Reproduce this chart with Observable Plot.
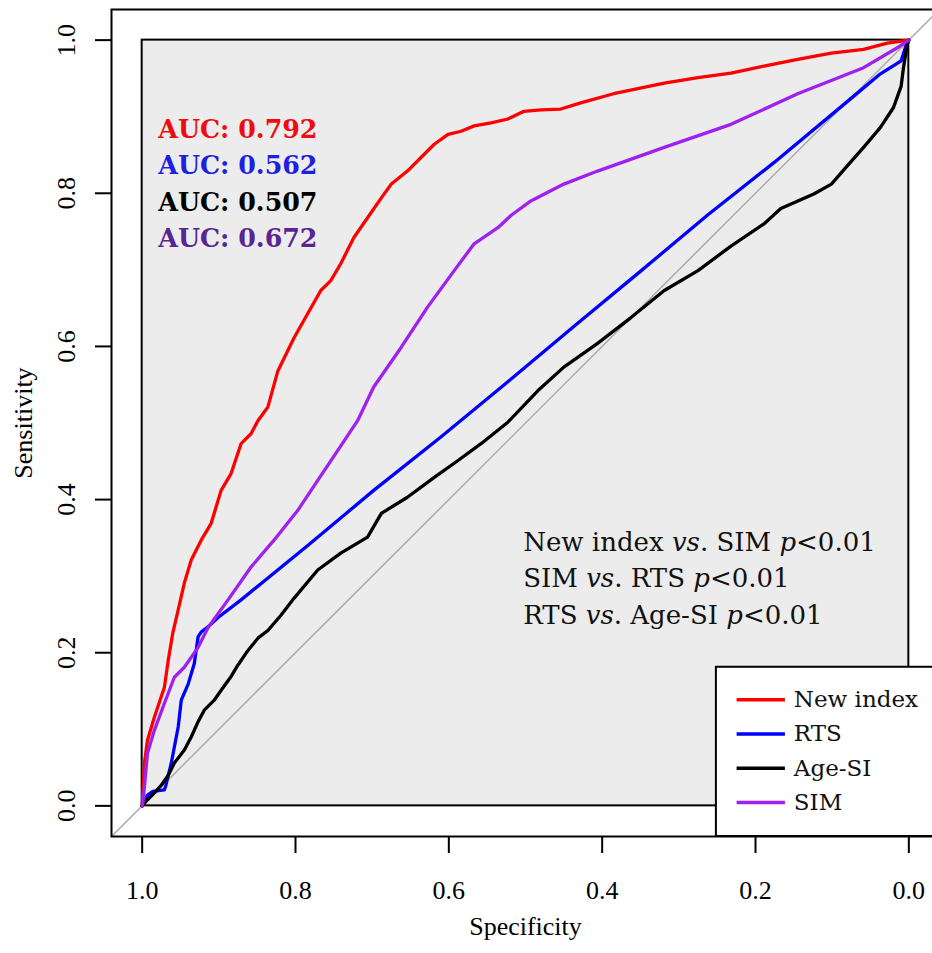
<!DOCTYPE html>
<html>
<head>
<meta charset="utf-8">
<script src="https://cdn.jsdelivr.net/npm/d3@7"></script>
<script src="https://cdn.jsdelivr.net/npm/@observablehq/plot@0.6"></script>
<style>
  html, body { margin: 0; padding: 0; background: #fff; overflow: hidden; }
  #chart svg { display: block; }
</style>
</head>
<body>
<div id="chart"></div>
<script>
// ---------- data ----------
const seriesNames  = ["New index", "RTS", "Age-SI", "SIM"];
const seriesColors = ["#ff0000", "#0000ff", "#000000", "#a020f0"];

const aucLabels = ["AUC: 0.792", "AUC: 0.562", "AUC: 0.507", "AUC: 0.672"];
const aucColors = ["#ee0d0d", "#1f1fe0", "#000000", "#5a2592"];

const pLines = [
  "New index vs. SIM p<0.01",
  "SIM vs. RTS p<0.01",
  "RTS vs. Age-SI p<0.01"
];

const xTicks = [1.0, 0.8, 0.6, 0.4, 0.2, 0.0];
const yTicks = [0.0, 0.2, 0.4, 0.6, 0.8, 1.0];
const xTitle = "Specificity";
const yTitle = "Sensitivity";

// New index (red)
const newIndexSpec = [1.000,0.997,0.993,0.984,0.971,0.966,0.960,0.953,0.945,0.936,0.923,0.910,0.897,0.884,0.871,0.858,0.849,0.836,0.823,0.802,0.784,0.767,0.754,0.741,0.724,0.706,0.688,0.675,0.654,0.636,0.619,0.601,0.584,0.567,0.545,0.523,0.502,0.480,0.454,0.428,0.385,0.319,0.275,0.232,0.189,0.145,0.101,0.059,0.028,0.007,0.000];
const newIndexSens = [0.000,0.056,0.086,0.116,0.155,0.190,0.226,0.256,0.291,0.321,0.347,0.369,0.412,0.434,0.473,0.486,0.503,0.521,0.568,0.611,0.643,0.673,0.686,0.708,0.742,0.768,0.794,0.812,0.829,0.847,0.864,0.877,0.881,0.888,0.892,0.897,0.907,0.909,0.910,0.918,0.930,0.944,0.951,0.957,0.966,0.975,0.983,0.988,0.996,0.999,1.000];

// RTS (blue)
const rtsSpec = [1.000,0.999,0.993,0.986,0.971,0.969,0.962,0.953,0.949,0.940,0.932,0.927,0.923,0.914,0.901,0.871,0.784,0.698,0.610,0.523,0.437,0.349,0.262,0.176,0.080,0.037,0.010,0.004,0.000];
const rtsSens = [0.000,0.004,0.014,0.019,0.021,0.027,0.056,0.103,0.138,0.159,0.186,0.221,0.227,0.234,0.246,0.269,0.340,0.412,0.482,0.554,0.626,0.699,0.772,0.840,0.920,0.956,0.973,0.992,1.000];

// Age-SI (black)
const ageSiSpec = [1.000,0.993,0.984,0.975,0.966,0.958,0.945,0.936,0.927,0.919,0.906,0.897,0.884,0.875,0.862,0.849,0.836,0.819,0.802,0.771,0.741,0.706,0.688,0.654,0.619,0.588,0.558,0.523,0.484,0.450,0.406,0.362,0.319,0.275,0.232,0.189,0.167,0.124,0.101,0.080,0.059,0.037,0.020,0.010,0.007,0.002,0.000];
const ageSiSens = [0.000,0.008,0.017,0.027,0.040,0.056,0.073,0.090,0.110,0.125,0.138,0.151,0.169,0.184,0.203,0.219,0.229,0.249,0.271,0.308,0.330,0.351,0.382,0.403,0.429,0.451,0.473,0.501,0.542,0.573,0.604,0.638,0.673,0.699,0.731,0.760,0.780,0.799,0.812,0.836,0.860,0.886,0.912,0.940,0.964,0.995,1.000];

// SIM (purple)
const simSpec = [1.000,0.999,0.993,0.984,0.971,0.958,0.945,0.927,0.914,0.888,0.858,0.828,0.797,0.771,0.745,0.719,0.698,0.662,0.628,0.593,0.567,0.536,0.519,0.493,0.450,0.406,0.319,0.232,0.145,0.059,0.015,0.000];
const simSens = [0.000,0.004,0.069,0.099,0.134,0.168,0.181,0.207,0.233,0.269,0.312,0.347,0.386,0.425,0.464,0.503,0.547,0.599,0.651,0.699,0.734,0.755,0.771,0.790,0.812,0.829,0.860,0.890,0.930,0.964,0.990,1.000];

// ---------- build tidy table ----------
const seriesData = [
  [newIndexSpec, newIndexSens],
  [rtsSpec, rtsSens],
  [ageSiSpec, ageSiSens],
  [simSpec, simSens]
];
const rows = [];
seriesData.forEach(([sp, se], k) => {
  sp.forEach((v, i) => rows.push({series: seriesNames[k], spec: v, sens: se[i]}));
});

const pad = 0.04;
const fmt = d3.format(".1f");
const serif = "'Liberation Serif', 'Times New Roman', serif";
const annoFont = "'DejaVu Serif', Georgia, serif";

const plot = Plot.plot({
  width: 932,
  height: 953,
  marginLeft: 111,
  marginRight: -7,
  marginTop: 9,
  marginBottom: 117,
  x: {domain: [1 + pad, -pad]},
  y: {domain: [-pad, 1 + pad]},
  color: {domain: seriesNames, range: seriesColors},
  style: {fontFamily: serif, background: "#fff", color: "#000", overflow: "hidden"},
  marks: [
    // inner plotting box
    Plot.rect([0], {x1: 1, x2: 0, y1: 0, y2: 1, fill: "#ececec", stroke: "#000", strokeWidth: 2}),
    // reference diagonal
    Plot.line([[1 + pad, -pad], [-pad, 1 + pad]], {stroke: "#ababab", strokeWidth: 1.5}),
    // ROC curves
    Plot.line(rows, {x: "spec", y: "sens", z: "series", stroke: "series", strokeWidth: 3.3, strokeLinejoin: "round"}),
    // AUC labels
    ...aucLabels.map((t, i) => Plot.text([t], {
      x: 0.979, y: 0.872 - i * 0.0473, text: d => d,
      textAnchor: "start", lineAnchor: "bottom",
      fontFamily: annoFont, fontWeight: "bold", fontSize: 25.3, fill: aucColors[i]
    })),
    // p-value annotations
    Plot.text(pLines, {
      x: 0.503, y: (d, i) => 0.333 - i * 0.0475, text: d => d,
      textAnchor: "start", lineAnchor: "bottom",
      fontFamily: annoFont, fontSize: 26, fill: "#111"
    }),
    // outer box
    Plot.frame({stroke: "#000", strokeWidth: 2}),
    // legend
    Plot.rect([0], {x1: 0.251, x2: -0.08, y1: -pad, y2: 0.181, fill: "#fff", stroke: "#000", strokeWidth: 2}),
    Plot.ruleY(seriesNames, {y: (d, i) => 0.1387 - i * 0.0448, x1: 0.224, x2: 0.161, stroke: d => d, strokeWidth: 3.5}),
    Plot.text(seriesNames, {
      x: 0.150, y: (d, i) => 0.1387 - i * 0.0448, text: d => d,
      textAnchor: "start", lineAnchor: "middle",
      fontFamily: annoFont, fontSize: 23, fill: "#111"
    }),
    // axes
    Plot.axisX(xTicks, {anchor: "bottom", tickSize: 17, tickPadding: 27, fontSize: 26, tickFormat: fmt, label: null, strokeWidth: 2}),
    Plot.axisY(yTicks, {anchor: "left", tickSize: 16, tickRotate: -90, tickPadding: 21, fontSize: 26, tickFormat: fmt, label: null, strokeWidth: 2}),
    Plot.text([xTitle], {frameAnchor: "bottom", dy: 98, textAnchor: "middle", lineAnchor: "bottom", text: d => d, fontSize: 26}),
    Plot.text([yTitle], {frameAnchor: "left", dx: -98, rotate: -90, textAnchor: "middle", lineAnchor: "top", text: d => d, fontSize: 26})
  ]
});

// italicise "vs" and "p" in the p-value annotations
d3.select(plot).selectAll("text").each(function () {
  const t = this.textContent;
  if (pLines.includes(t)) {
    const esc = t.replace(/&/g, "&amp;").replace(/</g, "&lt;");
    this.innerHTML = esc
      .replace(/\bvs\./, '<tspan font-style="italic">vs</tspan>.')
      .replace(/ p&lt;/, ' <tspan font-style="italic">p</tspan>&lt;');
  }
});

document.getElementById("chart").appendChild(plot);
</script>
</body>
</html>
